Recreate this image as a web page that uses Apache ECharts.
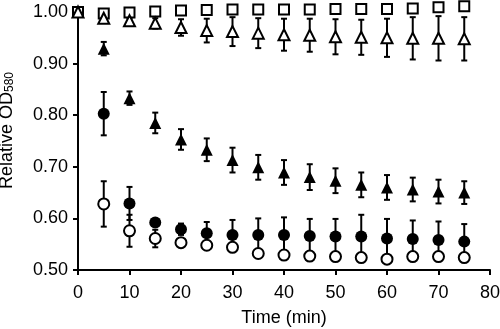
<!DOCTYPE html>
<html>
<head>
<meta charset="utf-8">
<script src="https://cdn.jsdelivr.net/npm/echarts@6/dist/echarts.min.js"></script>
<style>html,body{margin:0;padding:0;background:#fff}#c{width:500px;height:329px}</style>
</head>
<body>
<div id="c"></div>
<script>
// Data
const time = [0, 5, 10, 15, 20, 25, 30, 35, 40, 45, 50, 55, 60, 65, 70, 75];
const xTicks = [0, 10, 20, 30, 40, 50, 60, 70, 80];
const yTicks = [0.50, 0.60, 0.70, 0.80, 0.90, 1.00];

const openSquare = [1.000, 0.997, 0.999, 1.001, 1.003, 1.004, 1.005, 1.005, 1.005, 1.005, 1.006, 1.006, 1.006, 1.007, 1.009, 1.011];
const openSquareErr = [0, 0.002, 0.002, 0.002, 0.002, 0.002, 0.002, 0.002, 0.002, 0.002, 0.002, 0.002, 0.002, 0.002, 0.002, 0.002];

const openTriangle = [1.000, 0.988, 0.983, 0.978, 0.970, 0.964, 0.962, 0.959, 0.956, 0.955, 0.952, 0.951, 0.950, 0.949, 0.949, 0.948];
const openTriangleErr = [0, 0.003, 0.005, 0.010, 0.016, 0.023, 0.028, 0.029, 0.031, 0.032, 0.034, 0.034, 0.037, 0.041, 0.043, 0.042];

const filledTriangle = [null, 0.929, 0.833, 0.785, 0.753, 0.733, 0.713, 0.699, 0.689, 0.680, 0.673, 0.665, 0.660, 0.656, 0.652, 0.650];
const filledTriangleErr = [0, 0.013, 0.013, 0.020, 0.020, 0.022, 0.024, 0.024, 0.024, 0.025, 0.024, 0.024, 0.024, 0.023, 0.023, 0.022];

const filledCircle = [null, 0.803, 0.629, 0.592, 0.579, 0.571, 0.568, 0.568, 0.568, 0.566, 0.565, 0.565, 0.561, 0.560, 0.558, 0.555];
const filledCircleErr = [0, 0.042, 0.032, 0.005, 0.011, 0.022, 0.029, 0.032, 0.034, 0.033, 0.034, 0.042, 0.038, 0.036, 0.036, 0.034];

const openCircle = [null, 0.628, 0.576, 0.561, 0.553, 0.548, 0.544, 0.532, 0.529, 0.527, 0.526, 0.524, 0.521, 0.526, 0.526, 0.524];
const openCircleErr = [0, 0.044, 0.031, 0.017, 0.005, 0.003, 0.003, 0.004, 0.006, 0.007, 0.007, 0.006, 0.007, 0.006, 0.005, 0.006];

const FONT = 'Liberation Sans, Arial, Helvetica, sans-serif';

function pts(vals) {
  const out = [];
  vals.forEach((v, i) => { if (v !== null) out.push([time[i], v]); });
  return out;
}
function errPts(vals, errs) {
  const out = [];
  vals.forEach((v, i) => { if (v !== null && errs[i] > 0) out.push([time[i], v, errs[i]]); });
  return out;
}
function errRender(params, api) {
  const x = api.value(0), y = api.value(1), e = api.value(2);
  const hi = api.coord([x, y + e]);
  const lo = api.coord([x, y - e]);
  const cw = 3;
  const st = { stroke: '#000', lineWidth: 2 };
  return {
    type: 'group',
    children: [
      { type: 'line', shape: { x1: hi[0], y1: hi[1], x2: lo[0], y2: lo[1] }, style: st },
      { type: 'line', shape: { x1: hi[0] - cw, y1: hi[1], x2: hi[0] + cw, y2: hi[1] }, style: st },
      { type: 'line', shape: { x1: lo[0] - cw, y1: lo[1], x2: lo[0] + cw, y2: lo[1] }, style: st }
    ]
  };
}
function errSeries(vals, errs) {
  return { type: 'custom', renderItem: errRender, data: errPts(vals, errs), z: 1, clip: false, silent: true, encode: { x: 0, y: 1 } };
}
function scat(vals, symbol, size, filled, z) {
  return {
    type: 'scatter', data: pts(vals), symbol: symbol, symbolSize: size, z: z, clip: false, silent: true,
    itemStyle: { color: filled ? '#000' : '#fff', borderColor: '#000', borderWidth: filled ? 0 : 2, opacity: 1 }
  };
}

const chart = echarts.init(document.getElementById('c'), null, { renderer: 'canvas' });
chart.setOption({
  animation: false,
  backgroundColor: '#fff',
  textStyle: { fontFamily: FONT },
  grid: { left: 78, right: 10, top: 12, bottom: 59, containLabel: false, outerBoundsMode: 'none' },
  xAxis: {
    type: 'value', min: xTicks[0], max: xTicks[xTicks.length - 1], interval: 10,
    name: 'Time (min)', nameLocation: 'middle', nameGap: 39,
    nameTextStyle: { fontSize: 18, color: '#000', fontFamily: FONT },
    axisLine: { show: true, lineStyle: { color: '#000', width: 2 } },
    axisTick: { show: true, inside: false, length: 5, lineStyle: { color: '#000', width: 2 } },
    axisLabel: { fontSize: 18, color: '#000', margin: 14, fontFamily: FONT },
    splitLine: { show: false }
  },
  yAxis: {
    type: 'value', min: yTicks[0], max: yTicks[yTicks.length - 1], interval: 0.1,
    name: '{a|Relative OD}{b|580}', nameLocation: 'middle', nameGap: 62,
    nameTextStyle: {
      color: '#000', fontFamily: FONT, padding: [0, 0, 0, 21],
      rich: {
        a: { fontSize: 18, lineHeight: 18, color: '#000', fontFamily: FONT, verticalAlign: 'top' },
        b: { fontSize: 12, lineHeight: 12, color: '#000', fontFamily: FONT, verticalAlign: 'bottom', padding: [8, 0, 0, 0] }
      }
    },
    axisLine: { show: true, lineStyle: { color: '#000', width: 2 } },
    axisTick: { show: true, inside: false, length: 5, lineStyle: { color: '#000', width: 2 } },
    axisLabel: { fontSize: 18, color: '#000', margin: 10, fontFamily: FONT, formatter: v => v.toFixed(2) },
    splitLine: { show: false }
  },
  series: [
    errSeries(openSquare, openSquareErr),
    errSeries(openTriangle, openTriangleErr),
    errSeries(filledTriangle, filledTriangleErr),
    errSeries(filledCircle, filledCircleErr),
    errSeries(openCircle, openCircleErr),
    scat(openSquare, 'rect', 10, false, 3),
    scat(openTriangle, 'triangle', [11, 11], false, 4),
    scat(filledTriangle, 'triangle', [12, 12], true, 5),
    scat(filledCircle, 'circle', 12, true, 6),
    scat(openCircle, 'circle', 11, false, 7)
  ]
});
</script>
</body>
</html>
